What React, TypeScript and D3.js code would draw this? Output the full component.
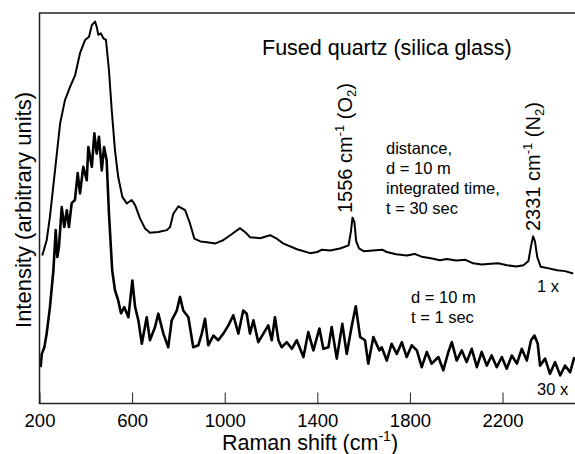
import * as d3 from "d3";
import React, { useEffect, useRef } from "react";

// upper trace, 1x (t = 30 sec)
const shift1x = [
  212, 231, 245, 267, 289, 310, 332, 354, 375, 397, 414, 426, 440, 447, 454, 465,
  476, 487, 500, 512, 526, 540, 558, 577, 598, 613, 634, 656, 677, 713, 750, 764,
  778, 800, 829, 850, 869, 895, 924, 960, 993, 1036, 1066, 1090, 1109, 1153, 1196,
  1225, 1252, 1312, 1369, 1400, 1420, 1455, 1498, 1535, 1545, 1552, 1560, 1568,
  1580, 1600, 1640, 1680, 1700, 1740, 1787, 1820, 1850, 1890, 1930, 1960, 2000,
  2040, 2073, 2110, 2150, 2180, 2220, 2260, 2290, 2312, 2322, 2332, 2340, 2350,
  2365, 2400, 2436, 2470, 2505,
];
const intensity1x = [
  37.9, 41.8, 47.8, 59.7, 71.7, 77.7, 81.1, 84.1, 89.7, 93.1, 93.9, 96.9, 97.8, 96.5,
  94.4, 94.8, 93.5, 93.1, 85.4, 75.1, 64.9, 58, 52.9, 51.2, 52.1, 50.8, 47.4, 44.8,
  43.7, 43.9, 44.4, 45.2, 48.6, 50.5, 49.5, 46.1, 42.2, 41.5, 41.3, 41.0, 41.8, 43.6,
  44.9, 43.8, 42.6, 42.3, 43.1, 42.2, 41.0, 39.5, 38.5, 38.8, 39.4, 39.2, 39.7, 40.5,
  44, 47.6, 46.5, 41.5, 39.7, 39.0, 39.2, 39.4, 38.8, 38.2, 37.9, 38.3, 37.6, 37.2,
  36.7, 37.0, 36.6, 36.8, 35.9, 35.6, 35.8, 35.9, 35.4, 35.1, 35.4, 36.5, 40, 42.8,
  41.5, 37.5, 35, 34.6, 34.1, 33.9, 33.3,
];

// lower trace, 30x (t = 1 sec)
const shift30x = [
  205, 210, 221, 231, 245, 260, 270, 277, 284, 296, 307, 318, 327, 339, 353, 365,
  375, 389, 404, 411, 426, 437, 447, 457, 469, 479, 490, 500, 514, 526, 540, 552,
  566, 584, 601, 613, 627, 642, 663, 677, 699, 713, 735, 756, 771, 793, 807, 821,
  843, 864, 886, 901, 915, 929, 951, 972, 994, 1016, 1037, 1059, 1080, 1095, 1109,
  1124, 1145, 1167, 1188, 1203, 1217, 1232, 1246, 1268, 1290, 1311, 1340, 1361,
  1383, 1409, 1426, 1448, 1462, 1484, 1508, 1527, 1549, 1566, 1585, 1606, 1620,
  1642, 1668, 1678, 1700, 1721, 1743, 1765, 1786, 1808, 1830, 1851, 1873, 1894,
  1923, 1944, 1966, 1981, 2002, 2024, 2045, 2067, 2089, 2110, 2132, 2153, 2175,
  2197, 2218, 2240, 2262, 2283, 2305, 2323, 2338, 2352, 2362, 2384, 2405, 2427,
  2449, 2470, 2492, 2510,
];
const intensity30x = [
  9.3, 12.7, 14.4, 17.9, 24.6, 34.1, 44.4, 37.5, 40.1, 50.3, 45.2, 49.5, 45.2, 51.3,
  52.1, 59, 53.8, 60.6, 57.2, 65.7, 60.6, 69.2, 64, 68.3, 59.7, 65.7, 62.3, 48.7,
  34.1, 29, 26.4, 23.1, 24.7, 22.1, 31.5, 24.7, 21.3, 15.3, 22.1, 16.2, 19.6, 23,
  17.9, 14.4, 21.3, 23.8, 27.3, 23.8, 22.1, 14.4, 14.9, 17.9, 21.7, 14.9, 17.4, 16.2,
  17.9, 20, 22.6, 17.9, 23.8, 23, 17.9, 21.3, 15.7, 17.9, 20, 16.2, 22.1, 16.2, 14.4,
  15.7, 14, 16.2, 11.9, 18.3, 13.6, 19.2, 14, 14.4, 19.6, 11.5, 20.4, 12.7, 20, 24.9,
  17, 16.2, 10.2, 17, 13.6, 14.4, 11, 15.3, 12.7, 15.7, 11.9, 14.9, 13.6, 9.3, 13.2,
  10.2, 11.9, 8.5, 13.2, 15.7, 11, 13.6, 10.6, 14, 9.3, 13.2, 9.7, 12.3, 9.3, 11.9,
  8.9, 12.3, 10.2, 14, 11, 16.2, 17.4, 15.3, 9.7, 11.5, 7.6, 10.6, 7.2, 9.7, 8, 11.9,
];

const xTicks = [200, 600, 1000, 1400, 1800, 2200];
const xDomain = [200, 2513];
const yDomain = [0, 100];

const FONT = "'Liberation Sans', Arial, Helvetica, sans-serif";

export default function App() {
  const ref = useRef<SVGSVGElement | null>(null);
  const width = 575;
  const height = 454;
  const left = 39.5;
  const top = 13;
  const bottom = 403.5;

  useEffect(() => {
    document.body.style.margin = "0";
    const svg = d3.select(ref.current);
    svg.selectAll("*").remove();

    const x = d3.scaleLinear().domain(xDomain).range([left, width]);
    const y = d3.scaleLinear().domain(yDomain).range([bottom, top]);

    svg
      .append("defs")
      .append("clipPath")
      .attr("id", "plot-clip")
      .append("rect")
      .attr("x", left)
      .attr("y", top)
      .attr("width", width - left)
      .attr("height", bottom - top);

    const line = d3
      .line<[number, number]>()
      .x((d) => x(d[0]))
      .y((d) => y(d[1]));

    const upper = shift1x.map((s, i) => [s, intensity1x[i]] as [number, number]);
    const lower = shift30x.map((s, i) => [s, intensity30x[i]] as [number, number]);

    const g = svg.append("g").attr("clip-path", "url(#plot-clip)");
    g.append("path")
      .attr("d", line(upper))
      .attr("fill", "none")
      .attr("stroke", "#000")
      .attr("stroke-width", 2)
      .attr("stroke-linejoin", "round");
    g.append("path")
      .attr("d", line(lower))
      .attr("fill", "none")
      .attr("stroke", "#000")
      .attr("stroke-width", 2.6)
      .attr("stroke-linejoin", "round");

    // x axis, ticks pointing inward
    const xAxis = svg
      .append("g")
      .attr("transform", `translate(0,${bottom})`)
      .call(
        d3
          .axisBottom(x)
          .tickValues(xTicks)
          .tickSizeInner(-11)
          .tickSizeOuter(0)
          .tickPadding(10)
          .tickFormat(d3.format("d"))
      );
    xAxis.select(".domain").remove();
    xAxis.selectAll("line").attr("stroke", "#222").attr("stroke-width", 1);
    xAxis
      .selectAll("text")
      .attr("font-family", FONT)
      .attr("font-size", 18.5)
      .attr("fill", "#000");

    // frame: left, bottom, top (right edge is cut off)
    svg
      .append("path")
      .attr("d", `M${width},${top}H${left}V${bottom}H${width}`)
      .attr("fill", "none")
      .attr("stroke", "#222")
      .attr("stroke-width", 1.5);

    const t = svg.append("g").attr("font-family", FONT).attr("fill", "#000");

    // axis titles
    const xt = t
      .append("text")
      .attr("x", 310)
      .attr("y", 450)
      .attr("text-anchor", "middle")
      .attr("font-size", 21.5);
    xt.append("tspan").text("Raman shift (cm");
    xt.append("tspan").attr("dy", -9).attr("font-size", 14).text("-1");
    xt.append("tspan").attr("dy", 9).text(")");

    t.append("text")
      .attr("transform", "translate(31,210) rotate(-90)")
      .attr("text-anchor", "middle")
      .attr("font-size", 22)
      .text("Intensity (arbitrary units)");

    t.append("text")
      .attr("x", 262)
      .attr("y", 55)
      .attr("font-size", 21.5)
      .text("Fused quartz (silica glass)");

    // rotated peak labels
    const peakLabel = (bx: number, by: number, num: string, mol: string) => {
      const el = t
        .append("text")
        .attr("transform", `translate(${bx},${by}) rotate(-90)`)
        .attr("font-size", 20);
      el.append("tspan").text(`${num} cm`);
      el.append("tspan").attr("dy", -8).attr("font-size", 13).text("-1");
      el.append("tspan").attr("dy", 8).text(` (${mol}`);
      el.append("tspan").attr("dy", 4).attr("font-size", 13).text("2");
      el.append("tspan").attr("dy", -4).text(")");
    };
    peakLabel(352, 213, "1556", "O");
    peakLabel(540, 231, "2331", "N");

    const block = (lx: number, ly: number, lines: string[]) => {
      const el = t.append("text").attr("font-size", 16.5);
      lines.forEach((s, i) => {
        el.append("tspan")
          .attr("x", lx)
          .attr("y", ly + i * 20)
          .text(s);
      });
    };
    block(386, 154, ["distance,", "d = 10 m", "integrated time,", "t = 30 sec"]);
    block(411, 303, ["d = 10 m", "t = 1 sec"]);

    t.append("text").attr("x", 537).attr("y", 292).attr("font-size", 16.5).text("1 x");
    t.append("text").attr("x", 537).attr("y", 395).attr("font-size", 16.5).text("30 x");
  }, []);

  return (
    <svg
      ref={ref}
      width={width}
      height={height}
      viewBox={`0 0 ${width} ${height}`}
      style={{ display: "block", background: "#fff" }}
    />
  );
}
